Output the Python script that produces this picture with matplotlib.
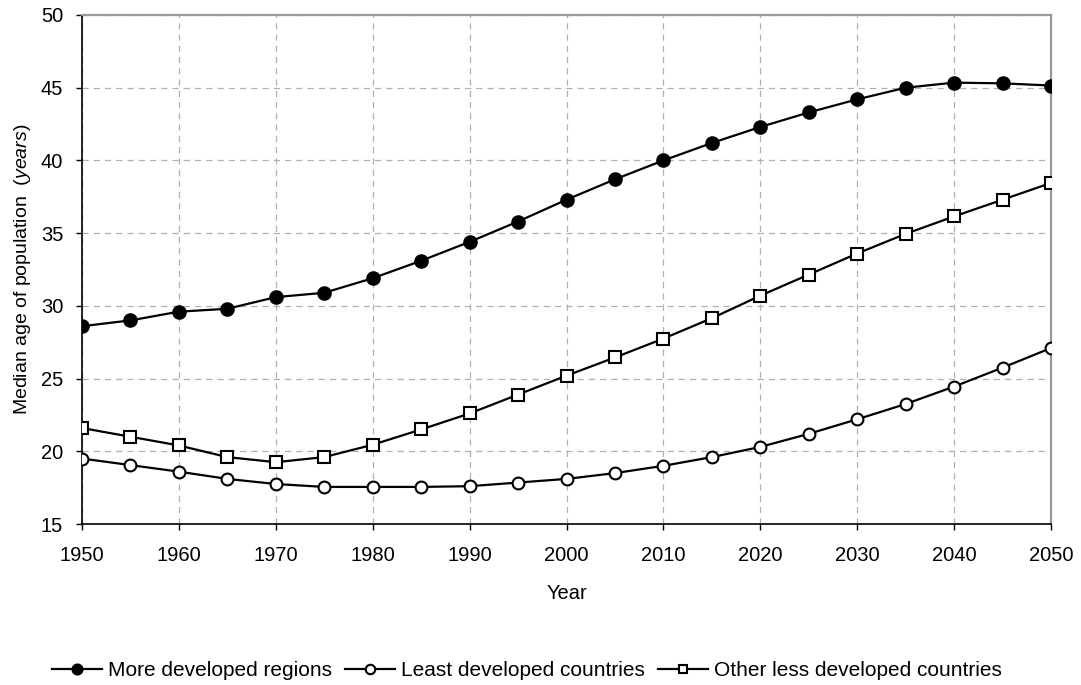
import matplotlib
matplotlib.use("Agg")
import matplotlib.pyplot as plt

years = [1950, 1955, 1960, 1965, 1970, 1975, 1980, 1985, 1990, 1995, 2000,
         2005, 2010, 2015, 2020, 2025, 2030, 2035, 2040, 2045, 2050]
more_developed = [28.6, 29.0, 29.6, 29.8, 30.6, 30.9, 31.9, 33.1, 34.4, 35.8, 37.3,
                  38.7, 40.0, 41.2, 42.3, 43.3, 44.2, 45.0, 45.35, 45.3, 45.15]
least_developed = [19.5, 19.05, 18.6, 18.1, 17.75, 17.55, 17.55, 17.55, 17.6, 17.85, 18.1,
                   18.5, 19.0, 19.6, 20.3, 21.2, 22.2, 23.25, 24.45, 25.75, 27.1]
other_less = [21.6, 21.0, 20.4, 19.6, 19.25, 19.6, 20.45, 21.5, 22.6, 23.9, 25.2,
              26.45, 27.75, 29.15, 30.7, 32.15, 33.6, 34.95, 36.15, 37.3, 38.45]
series_labels = ["More developed regions", "Least developed countries",
                 "Other less developed countries"]
xticks = list(range(1950, 2051, 10))
yticks = list(range(15, 51, 5))

plt.rcParams['font.family'] = ['Liberation Sans', 'DejaVu Sans']
plt.rcParams['mathtext.fontset'] = 'custom'
plt.rcParams['mathtext.it'] = 'Liberation Sans:italic'
plt.rcParams['mathtext.rm'] = 'Liberation Sans'

fig = plt.figure(figsize=(10.81, 6.85), dpi=100)
ax = fig.add_axes([82/1081, 1 - 524/685, (1051-82)/1081, (524-15)/685])

lw = 1.6
ms = 8.5
ax.plot(years, more_developed, color='black', lw=lw, marker='o', ms=ms + 0.5,
        mfc='black', mec='black', mew=1.5, label=series_labels[0], zorder=3)
ax.plot(years, least_developed, color='black', lw=lw, marker='o', ms=ms,
        mfc='white', mec='black', mew=1.5, label=series_labels[1], zorder=3)
ax.plot(years, other_less, color='black', lw=lw, marker='s', ms=ms - 0.5,
        mfc='white', mec='black', mew=1.5, label=series_labels[2], zorder=3)

ax.set_xlim(1950, 2050)
ax.set_ylim(15, 50)
ax.set_xticks(xticks)
ax.set_yticks(yticks)
ax.tick_params(axis='both', labelsize=14.5, direction='out', length=4.5, width=1, color='black')
ax.tick_params(axis='x', pad=11)
ax.tick_params(axis='y', pad=9)
ax.grid(True, color='#b0b0b0', linestyle=(0, (5, 4)), linewidth=0.9, zorder=0)

for s in ['left', 'bottom']:
    ax.spines[s].set_color('black')
    ax.spines[s].set_linewidth(1.2)
for s in ['top', 'right']:
    ax.spines[s].set_color('#999999')
    ax.spines[s].set_linewidth(1.6)

ax.set_xlabel('Year', fontsize=14.5, labelpad=14)
ax.set_ylabel(r'Median age of population  $\mathit{(years)}$', fontsize=14, labelpad=5.5)

leg = fig.legend(loc='center', bbox_to_anchor=(527/1081, 1 - 671/685), ncol=3, frameon=False,
                 fontsize=15, handlelength=2.4, handletextpad=0.3, columnspacing=0.6,
                 markerscale=0.8)

fig.savefig('out.png', dpi=100, facecolor='white')
